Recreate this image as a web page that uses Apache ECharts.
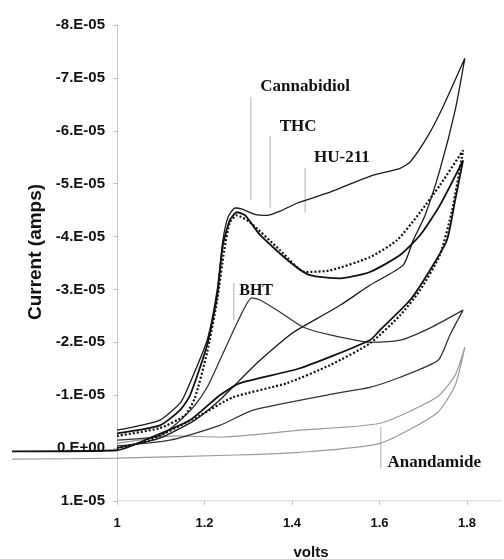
<!DOCTYPE html>
<html><head><meta charset="utf-8">
<script src="https://cdn.jsdelivr.net/npm/echarts@6/dist/echarts.min.js"></script>
<style>html,body{margin:0;padding:0;background:#fff}#c{width:504px;height:559px}</style>
</head><body><div id="c"></div>
<script>
// x: volts, y: current in units of 1e-5 A (axis is inverted)
const xTicks = [1, 1.2, 1.4, 1.6, 1.8];
const xMin = 0.76, xMax = 1.88, xAxisStart = 1;
const yMin = -8, yMax = 1;

const cannabidiolV = [1.000,1.098,1.144,1.160,1.206,1.229,1.242,1.254,1.270,1.286,1.315,1.343,1.373,1.411,1.487,1.578,1.647,1.670,1.709,1.745,1.795,1.773,1.738,1.704,1.677,1.654,1.578,1.510,1.411,1.389,1.327,1.281,1.235,1.178,1.098,1.000];
const cannabidiolI = [-0.34,-0.53,-0.85,-1.10,-2.04,-2.99,-3.93,-4.37,-4.54,-4.52,-4.42,-4.40,-4.48,-4.63,-4.84,-5.14,-5.29,-5.41,-5.88,-6.45,-7.37,-6.39,-5.26,-4.40,-3.93,-3.46,-3.08,-2.70,-2.23,-2.10,-1.66,-1.29,-0.91,-0.53,-0.19,0.00];

const thcV = [1.000,1.098,1.144,1.167,1.206,1.229,1.242,1.258,1.274,1.293,1.327,1.395,1.441,1.510,1.578,1.647,1.693,1.738,1.791,1.773,1.754,1.715,1.670,1.601,1.578,1.418,1.281,1.235,1.167,1.075,1.000,0.760];
const thcI = [-0.28,-0.43,-0.72,-1.00,-1.95,-2.89,-3.84,-4.31,-4.46,-4.40,-4.03,-3.52,-3.27,-3.21,-3.33,-3.65,-4.03,-4.59,-5.44,-4.69,-3.93,-3.36,-2.80,-2.23,-2.04,-1.51,-1.23,-1.00,-0.53,-0.19,0.04,0.06];

const hu211V = [1.000,1.098,1.155,1.178,1.206,1.229,1.245,1.258,1.274,1.304,1.373,1.430,1.487,1.578,1.640,1.693,1.738,1.791,1.766,1.738,1.693,1.647,1.578,1.487,1.389,1.265,1.190,1.075,1.000];
const hu211I = [-0.23,-0.38,-0.62,-0.95,-1.81,-2.80,-3.74,-4.27,-4.40,-4.27,-3.74,-3.33,-3.36,-3.61,-3.93,-4.46,-4.97,-5.63,-4.50,-3.65,-2.99,-2.51,-1.98,-1.57,-1.23,-0.96,-0.62,-0.15,0.00];

const bhtV = [1.000,1.098,1.137,1.178,1.206,1.235,1.281,1.308,1.327,1.373,1.425,1.487,1.578,1.647,1.715,1.791,1.761,1.734,1.647,1.578,1.503,1.311,1.235,1.121,1.000];
const bhtI = [-0.15,-0.23,-0.47,-0.81,-1.15,-1.66,-2.48,-2.84,-2.80,-2.57,-2.29,-2.14,-2.00,-2.04,-2.27,-2.61,-2.14,-1.66,-1.34,-1.15,-1.04,-0.72,-0.43,-0.15,-0.04];

const anandamideV = [1.000,1.137,1.235,1.418,1.601,1.731,1.773,1.795,1.773,1.731,1.601,1.418,1.274,1.000,0.760];
const anandamideI = [-0.09,-0.23,-0.21,-0.34,-0.47,-0.96,-1.38,-1.91,-1.19,-0.66,-0.09,0.08,0.13,0.19,0.21];

// annotation labels (data coords of text centre)
const labelNames = ['Cannabidiol','THC','HU-211','BHT','Anandamide'];
const labelX = [1.430, 1.414, 1.514, 1.318, 1.725];
const labelY = [-6.84, -6.07, -5.50, -2.97, 0.28];
// leader lines: x, yTop, yBottom
const leaderX = [1.306, 1.350, 1.430, 1.267, 1.603];
const leaderTop = [-6.64, -5.90, -5.30, -3.12, -0.40];
const leaderBottom = [-4.69, -4.55, -4.45, -2.42, 0.38];

const zip = (a, b) => a.map((v, i) => [v, b[i]]);
const chart = echarts.init(document.getElementById('c'));

const gridLeft = 12, gridRight = 2;
const plotW = 504 - gridLeft - gridRight;
const yAxisShift = (xAxisStart - xMin) / (xMax - xMin) * plotW;

function curve(name, v, i, style) {
  return { name, type: 'line', data: zip(v, i), symbol: 'none', smooth: 0.2,
    silent: true, lineStyle: style, z: 3 };
}
const leaders = leaderX.map((x, k) => ({
  type: 'line', data: [[x, leaderTop[k]], [x, leaderBottom[k]]], symbol: 'none', silent: true,
  lineStyle: { color: '#b0b0b0', width: 1 }, z: 2
}));
// bottom axis line starting at the y axis (x = 1)
const baseLine = { type: 'line', data: [[xAxisStart, yMax], [xMax, yMax]], symbol: 'none', silent: true,
  lineStyle: { color: '#c4c4c4', width: 1 }, z: 1 };

chart.setOption({
  animation: false,
  backgroundColor: '#fff',
  grid: { left: gridLeft, right: gridRight, top: 25, bottom: 58 },
  xAxis: {
    type: 'value', min: xMin, max: xMax,
    axisLine: { show: false, onZero: false },
    axisTick: { show: true, length: 4, customValues: xTicks, lineStyle: { color: '#c4c4c4' } },
    axisLabel: { customValues: xTicks, margin: 16, color: '#111', fontWeight: 'bold',
      fontFamily: 'Liberation Sans', fontSize: 13, formatter: v => String(Math.round(v * 10) / 10) },
    splitLine: { show: false }
  },
  yAxis: {
    type: 'value', min: yMin, max: yMax, interval: 1, inverse: true, offset: -yAxisShift,
    axisLine: { show: true, onZero: false, lineStyle: { color: '#c4c4c4', width: 1 } },
    axisTick: { show: true, length: 4, lineStyle: { color: '#c4c4c4' } },
    axisLabel: { margin: 12, color: '#111', fontWeight: 'bold', fontFamily: 'Liberation Sans', fontSize: 15,
      formatter: v => { const n = Math.round(v); return n === 0 ? '0.E+00' : n + '.E-05'; } },
    splitLine: { show: false }
  },
  series: [
    baseLine,
    curve('Anandamide', anandamideV, anandamideI, { color: '#9a9a9a', width: 1.2 }),
    curve('BHT', bhtV, bhtI, { color: '#333', width: 1.3 }),
    curve('Cannabidiol', cannabidiolV, cannabidiolI, { color: '#1a1a1a', width: 1.3 }),
    curve('THC', thcV, thcI, { color: '#111', width: 1.8 }),
    curve('HU-211', hu211V, hu211I, { color: '#111', width: 2.2, type: [2, 2] }),
    ...leaders
  ]
});

const texts = labelNames.map((t, k) => {
  const p = chart.convertToPixel({ gridIndex: 0 }, [labelX[k], labelY[k]]);
  return { type: 'text', x: p[0], y: p[1], z: 10,
    style: { text: t, font: 'bold ' + (t === 'BHT' ? 16 : 17) + 'px "Liberation Serif"', fill: '#111',
      align: 'center', verticalAlign: 'middle' } };
});
texts.push({ type: 'text', x: 311, y: 553, style: { text: 'volts', font: 'bold 15px "Liberation Sans"', fill: '#111', align: 'center', verticalAlign: 'middle' } });
texts.push({ type: 'text', x: 36, y: 252, rotation: Math.PI / 2, style: { text: 'Current (amps)', font: 'bold 19px "Liberation Sans"', fill: '#111', align: 'center', verticalAlign: 'middle' } });
chart.setOption({ graphic: texts });
</script></body></html>
